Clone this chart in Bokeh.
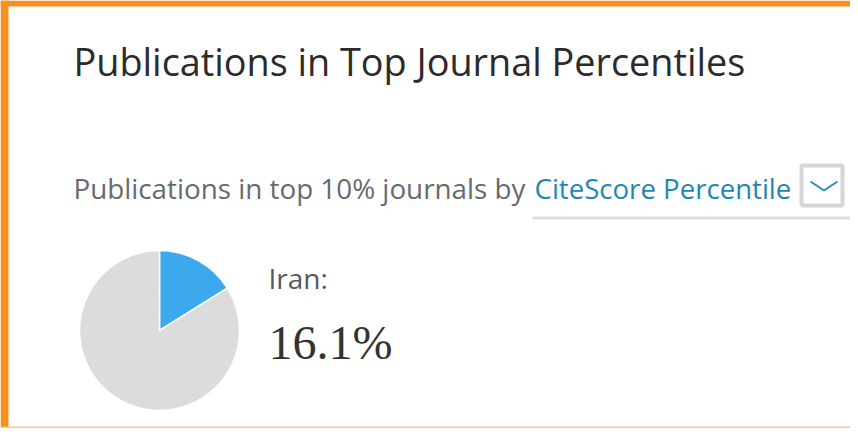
import numpy as np
from bokeh.plotting import figure
from bokeh.models import Range1d, Label
from bokeh.embed import file_html
from bokeh.resources import INLINE

# ---- data ----
country = "Iran"
share_pct = [16.1, 83.9]          # top-10% share, remainder
slice_colors = ["#3ca9ee", "#dcdcdc"]
title_text = "Publications in Top Journal Percentiles"
subtitle_text = "Publications in top 10% journals by "
metric_text = "CiteScore Percentile"

W, H = 850, 428
p = figure(width=W, height=H, output_backend="svg", toolbar_location=None,
           x_range=Range1d(0, W), y_range=Range1d(0, H),
           min_border=0, outline_line_color=None)
p.axis.visible = False
p.grid.visible = False
p.background_fill_color = "white"
p.border_fill_color = "white"

def Y(page_y):
    return H - (page_y - 8)

def X(page_x):
    return page_x - 8

FONT = "Open Sans"

# frame
p.quad(left=[X(8)], right=[X(16)], bottom=[0], top=[H], color="#f7901e", line_color=None)
p.quad(left=[X(8)], right=[W], bottom=[Y(14)], top=[H], color="#f7901e", line_color=None)
p.quad(left=[X(8)], right=[W], bottom=[0], top=[2], color="#fcc48e", line_color=None)

# title
p.add_layout(Label(x=X(81), y=Y(69), text=title_text, text_font=FONT,
                   text_font_size="37.8px", text_color="#2b2b2b", text_baseline="alphabetic"))
# subtitle
p.add_layout(Label(x=X(81), y=Y(195), text=subtitle_text, text_font=FONT,
                   text_font_size="27.8px", text_color="#666a70", text_baseline="alphabetic"))
p.add_layout(Label(x=X(542), y=Y(195), text=metric_text, text_font=FONT,
                   text_font_size="27.6px", text_color="#1f86b3", text_baseline="alphabetic"))

# dropdown box
p.quad(left=[X(809)], right=[X(850)], bottom=[Y(213)], top=[Y(173)],
       fill_color="white", line_color="#d6d6d6", line_width=4)
p.line(x=[X(818), X(831.5), X(845)], y=[Y(189), Y(198), Y(189)],
       line_color="#2a8db5", line_width=2)
# underline
p.quad(left=[X(540)], right=[W], bottom=[Y(227)], top=[Y(224)], color="#dddddd", line_color=None)

# pie
frac = np.array(share_pct) / sum(share_pct)
ends = np.pi / 2 - 2 * np.pi * np.cumsum(frac)
starts = np.concatenate([[np.pi / 2], ends[:-1]])
p.wedge(x=X(167), y=Y(338), radius=80, radius_units="screen",
        start_angle=ends, end_angle=starts, direction="anticlock",
        fill_color=slice_colors, line_color="white", line_width=1.5)

# value labels
p.add_layout(Label(x=X(276), y=Y(285), text=country + ":", text_font=FONT,
                   text_font_size="28px", text_color="#555a60", text_baseline="alphabetic"))
p.add_layout(Label(x=X(276), y=Y(350), text=f"{share_pct[0]}%", text_font="Liberation Serif",
                   text_font_size="48px", text_color="#333333", text_baseline="alphabetic"))

open("out.html", "w").write(file_html(p, INLINE))
